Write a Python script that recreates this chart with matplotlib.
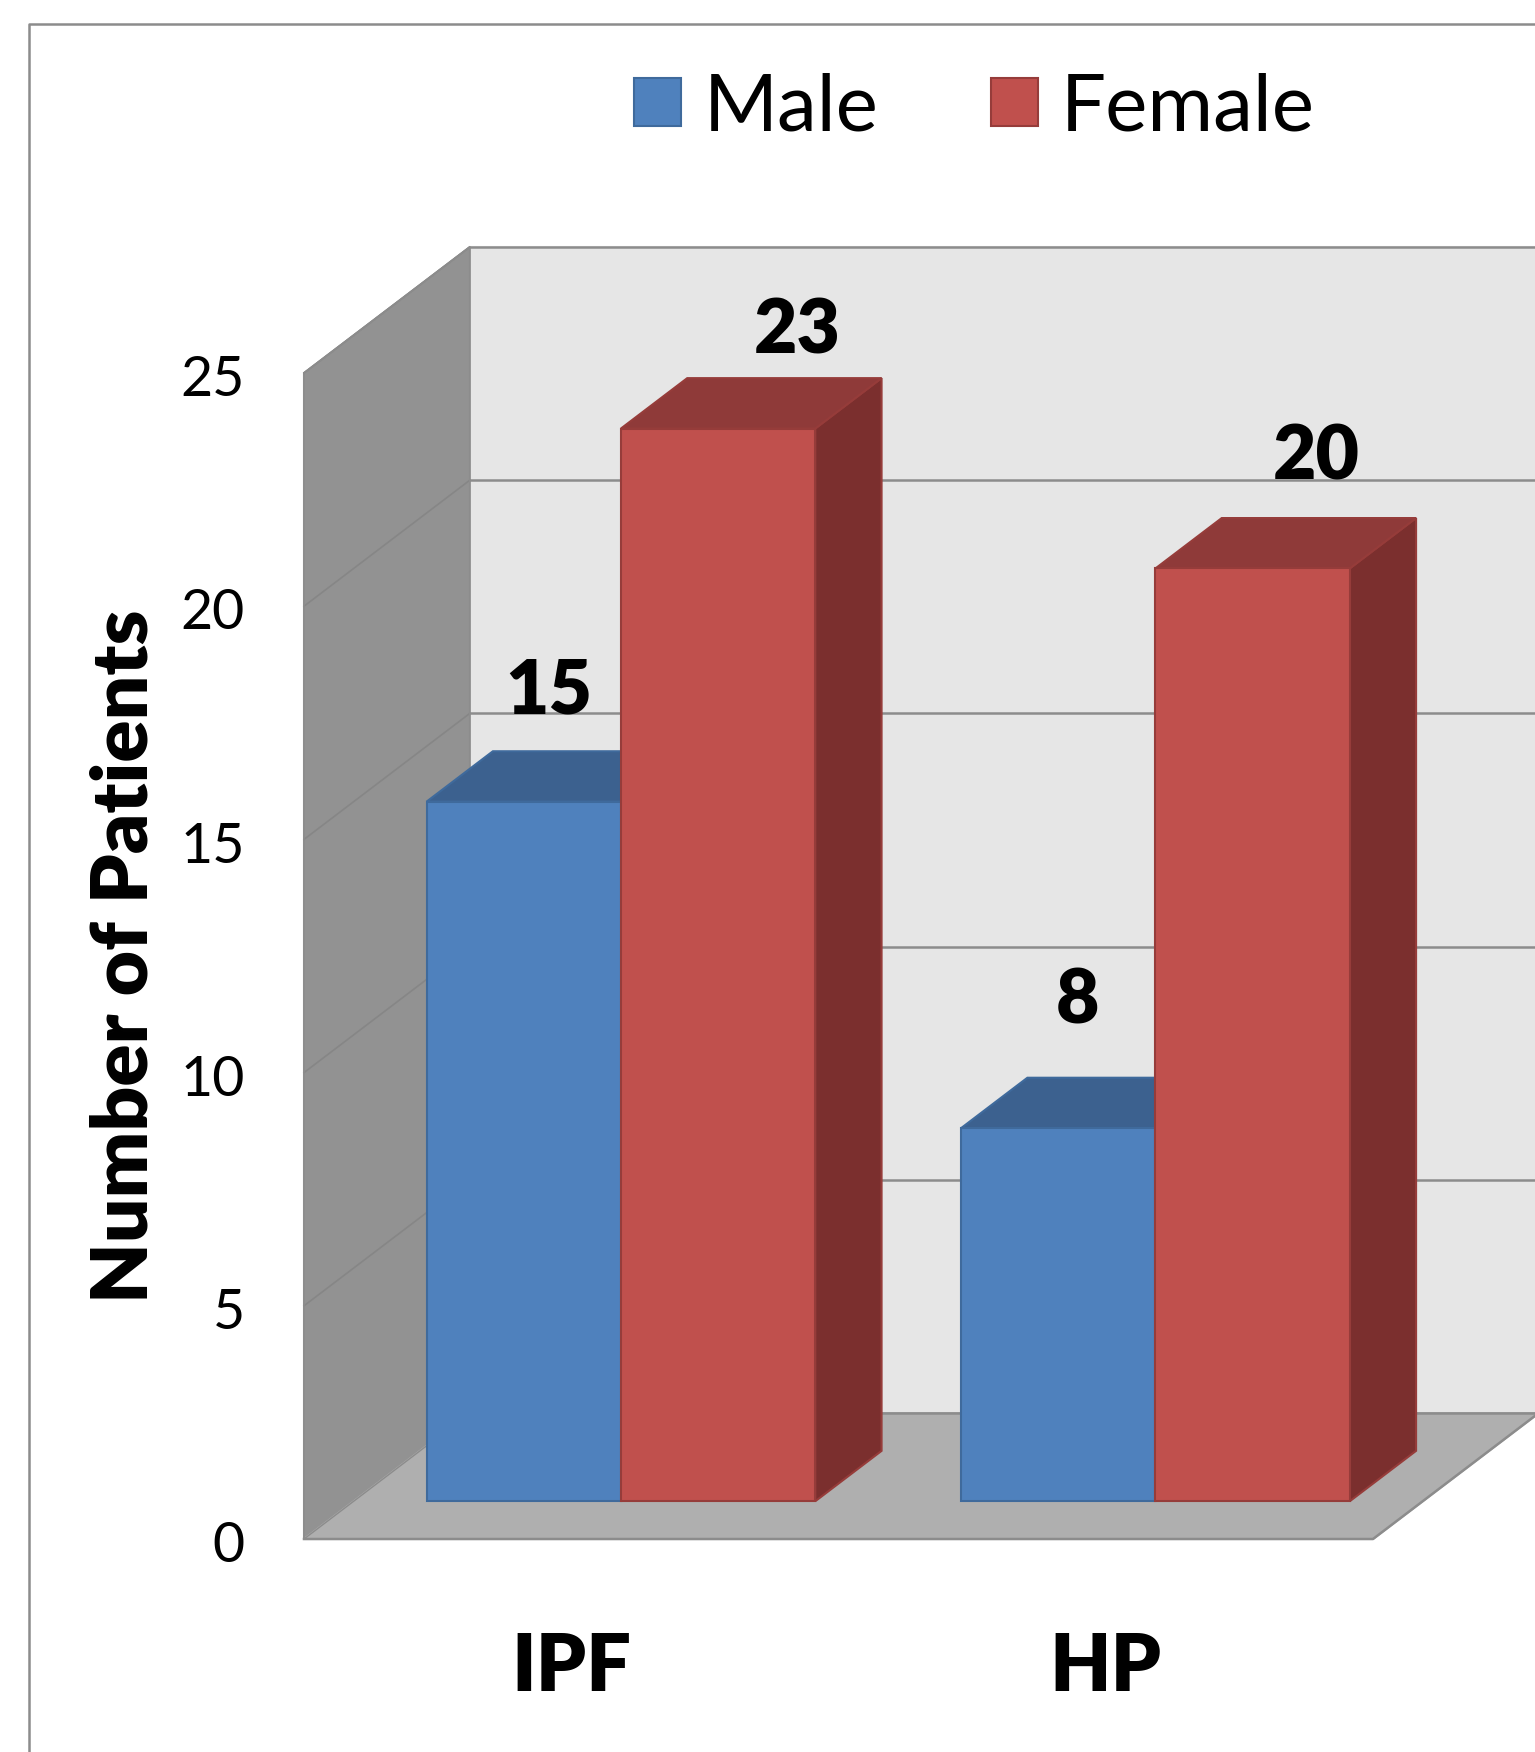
"""
Patients per diagnosis and sex, drawn as a 3D-style clustered column chart.
"""
import matplotlib
matplotlib.use("Agg")
import matplotlib.pyplot as plt
from matplotlib.lines import Line2D
from matplotlib.patches import Patch, Polygon
from matplotlib.transforms import ScaledTranslation

categories = ["IPF", "HP"]
male = [15, 8]
female = [23, 20]
y_ticks = [0, 5, 10, 15, 20, 25]
y_label = "Number of Patients"

BLUE = {"front": "#4f81bd", "top": "#3c618f", "side": "#3c618f", "edge": "#3f6a9c"}
RED = {"front": "#c0504d", "top": "#8f3a39", "side": "#7b2f2e", "edge": "#963c3a"}
WALL = "#929292"
BACK = "#e6e6e6"
FLOOR = "#afafaf"
LINE = "#8c8c8c"

# how far the back wall sits behind the front plane, in data units
DEPTH_X = 0.31
DEPTH_Y = 2.70
BAR_WIDTH = 0.3636
BAR_NEAR = 0.30
BAR_FAR = 0.70

# data label offsets from the top of each bar's front face, in points
MALE_OFFSETS = [(18, 79), (14, 91)]
FEMALE_OFFSETS = [(57, 70), (46, 80)]


def project(x, y, d):
    return x + d * DEPTH_X, y + d * DEPTH_Y


def face(ax, pts, color, edge=None, lw=1.5, z=1):
    ax.add_patch(Polygon(pts, closed=True, facecolor=color, edgecolor=edge or color,
                         linewidth=lw, clip_on=False, zorder=z, joinstyle="miter"))


def draw_bar(ax, left, value, colors, z):
    right = left + BAR_WIDTH
    side = [project(right, 0, BAR_NEAR), project(right, 0, BAR_FAR),
            project(right, value, BAR_FAR), project(right, value, BAR_NEAR)]
    top = [project(left, value, BAR_NEAR), project(right, value, BAR_NEAR),
           project(right, value, BAR_FAR), project(left, value, BAR_FAR)]
    front = [project(left, 0, BAR_NEAR), project(right, 0, BAR_NEAR),
             project(right, value, BAR_NEAR), project(left, value, BAR_NEAR)]
    face(ax, side, colors["side"], colors["edge"], z=z)
    face(ax, top, colors["top"], colors["edge"], z=z)
    face(ax, front, colors["front"], colors["edge"], z=z + 0.1)


def main():
    plt.rcParams["font.family"] = ["Lato", "DejaVu Sans"]

    fig = plt.figure(figsize=(15.35, 17.52), dpi=100, facecolor="white")
    width_px, height_px = 1535, 1752
    ax = fig.add_axes([304 / width_px, 1 - 1539 / height_px, 1069 / width_px, 1166 / height_px])
    ax.set_xlim(-0.5, 1.5)
    ax.set_ylim(0, 25)
    ax.patch.set_visible(False)
    for spine in ax.spines.values():
        spine.set_visible(False)

    # outer chart frame, open towards the right and bottom edges
    fx, fy = 29 / width_px, 1 - 24 / height_px
    fig.add_artist(Line2D([fx, fx, 1.01], [-0.01, fy, fy], color=LINE, linewidth=1.8))

    x0, x1 = ax.get_xlim()
    y_top = y_ticks[-1]

    # chart box: back wall, left wall, floor
    face(ax, [project(x0, 0, 1), project(x1, 0, 1), project(x1, y_top, 1), project(x0, y_top, 1)],
         BACK, BACK, z=1)
    face(ax, [project(x0, 0, 0), project(x0, 0, 1), project(x0, y_top, 1), project(x0, y_top, 0)],
         WALL, WALL, z=1.1)
    face(ax, [project(x0, 0, 0), project(x1, 0, 0), project(x1, 0, 1), project(x0, 0, 1)],
         FLOOR, FLOOR, z=1.2)

    for tick in y_ticks:
        # the zero line is the floor's edge, the others run across both walls
        if tick > 0:
            ax.plot(*zip(project(x0, tick, 0), project(x0, tick, 1)), color="#868686",
                    linewidth=1.2, clip_on=False, zorder=1.3)
        ax.plot(*zip(project(x0, tick, 1), project(x1, tick, 1)), color=LINE,
                linewidth=1.8, clip_on=False, zorder=1.3)
    ax.plot(*zip(project(x0, 0, 0), project(x1, 0, 0), project(x1, 0, 1)), color=LINE,
            linewidth=1.8, clip_on=False, zorder=1.4)
    ax.plot(*zip(project(x0, 0, 0), project(x0, y_top, 0), project(x0, y_top, 1), project(x0, 0, 1)),
            color=LINE, linewidth=1.2, clip_on=False, zorder=1.4)
    ax.plot(*zip(project(x0, 0, 0), project(x0, 0, 1)), color=LINE, linewidth=1.0,
            clip_on=False, zorder=1.4)

    for i, cat in enumerate(categories):
        draw_bar(ax, i - BAR_WIDTH, male[i], BLUE, z=2 + i)
        draw_bar(ax, i, female[i], RED, z=2.5 + i)

    # value labels placed above each column
    for i in range(len(categories)):
        for left, value, offset in ((i - BAR_WIDTH, male[i], MALE_OFFSETS[i]),
                                    (i, female[i], FEMALE_OFFSETS[i])):
            anchor = project(left + BAR_WIDTH / 2, value, BAR_NEAR)
            ax.annotate(str(value), xy=anchor, xytext=offset, textcoords="offset points",
                        ha="center", va="center", fontsize=54, fontweight="heavy",
                        color="black", zorder=6, annotation_clip=False)

    ax.set_xticks(range(len(categories)))
    ax.set_xticklabels(categories, fontsize=57, fontweight="heavy")
    ax.set_yticks(y_ticks)
    ax.set_yticklabels([str(t) for t in y_ticks], fontsize=40)
    ax.tick_params(axis="x", length=0, pad=66)
    ax.tick_params(axis="y", length=0, pad=42.5)

    # nudge the value axis numbers down a little
    nudge = ScaledTranslation(0, -2 / 72, fig.dpi_scale_trans)
    for lab in ax.get_yticklabels():
        lab.set_transform(lab.get_transform() + nudge)

    ax.set_ylabel(y_label, fontsize=56.4, fontweight="heavy")
    ax.yaxis.set_label_coords((161 - 304) / 1069, 0.5)

    handles = [Patch(facecolor=BLUE["front"], edgecolor=BLUE["edge"], linewidth=1.5, label="Male"),
               Patch(facecolor=RED["front"], edgecolor=RED["edge"], linewidth=1.5, label="Female")]
    fig.legend(handles=handles, loc="center", bbox_to_anchor=(974.2 / width_px, 1 - 108.5 / height_px),
               ncol=2, frameon=False, fontsize=57.5, handlelength=0.6, handleheight=0.55,
               handletextpad=0.28, columnspacing=1.40, borderpad=0)

    fig.savefig("out.png", dpi=100, facecolor="white")
    plt.close(fig)


if __name__ == "__main__":
    main()
